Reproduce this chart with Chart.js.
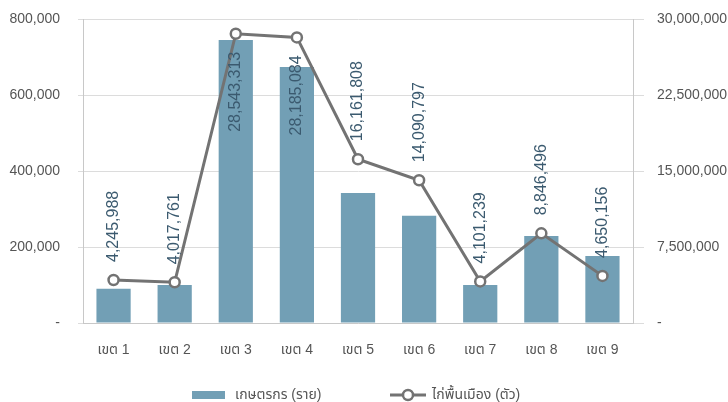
<!DOCTYPE html>
<html>
<head>
<meta charset="utf-8">
<script src="https://cdn.jsdelivr.net/npm/chart.js@4"></script>
<style>
  html, body { margin: 0; padding: 0; background: #fff; }
  #wrap { width: 728px; height: 402px; }
</style>
</head>
<body>
<div id="wrap"><canvas id="chart" width="728" height="402"></canvas></div>
<script>
const zones = ["เขต 1", "เขต 2", "เขต 3", "เขต 4", "เขต 5", "เขต 6", "เขต 7", "เขต 8", "เขต 9"];
const farmers = [90000, 100000, 745000, 674000, 342000, 282000, 100000, 229000, 176000];
const chickens = [4245988, 4017761, 28543313, 28185084, 16161808, 14090797, 4101239, 8846496, 4650156];
const leftTicks = [0, 200000, 400000, 600000, 800000];
const rightTicks = [0, 7500000, 15000000, 22500000, 30000000];
const seriesNames = ["เกษตรกร (ราย)", "ไก่พื้นเมือง (ตัว)"];

const FONT = "'Liberation Sans', Arial, 'Noto Sans Thai', 'Noto Sans', sans-serif";
const barColor = "#729fb5";
const lineColor = "#737373";
const labelColor = "#3b5a6f";

function fmt(v) {
  return v === 0 ? "-" : v.toLocaleString("en-US");
}

// rotated value labels for the line series
const lineLabels = {
  id: "lineLabels",
  afterDatasetsDraw(chart) {
    const ctx = chart.ctx;
    const meta = chart.getDatasetMeta(0);
    ctx.save();
    ctx.font = "16px " + FONT;
    ctx.fillStyle = labelColor;
    ctx.textBaseline = "middle";
    meta.data.forEach((pt, i) => {
      const txt = chickens[i].toLocaleString("en-US");
      const w = ctx.measureText(txt).width;
      ctx.save();
      ctx.translate(pt.x, pt.y);
      ctx.rotate(-Math.PI / 2);
      // no room above the point -> put it below
      if (pt.y - 18 - w < chart.chartArea.top - 5) {
        ctx.textAlign = "right";
        ctx.fillText(txt, -18, 0);
      } else {
        ctx.textAlign = "left";
        ctx.fillText(txt, 18, 0);
      }
      ctx.restore();
    });
    ctx.restore();
  }
};

// legend at the bottom
const bottomLegend = {
  id: "bottomLegend",
  afterDraw(chart) {
    const ctx = chart.ctx;
    const y = 395;
    ctx.save();
    ctx.font = "14px " + FONT;
    ctx.textBaseline = "middle";
    ctx.fillStyle = barColor;
    ctx.fillRect(192, y - 4, 33, 8);
    ctx.fillStyle = "#555";
    ctx.fillText(seriesNames[0], 235, y);
    ctx.strokeStyle = lineColor;
    ctx.lineWidth = 3;
    ctx.beginPath();
    ctx.moveTo(390, y);
    ctx.lineTo(426, y);
    ctx.stroke();
    ctx.beginPath();
    ctx.arc(408, y, 5, 0, Math.PI * 2);
    ctx.fillStyle = "#fff";
    ctx.fill();
    ctx.lineWidth = 2.5;
    ctx.stroke();
    ctx.fillStyle = "#555";
    ctx.fillText(seriesNames[1], 432, y);
    ctx.restore();
  }
};

const data = {
  labels: zones,
  datasets: [
    {
      type: "line",
      label: seriesNames[1],
      data: chickens,
      yAxisID: "y1",
      borderColor: lineColor,
      borderWidth: 3,
      pointRadius: 5,
      pointBorderWidth: 2.5,
      pointBackgroundColor: "#fff",
      pointBorderColor: lineColor,
      tension: 0,
      order: 0,
    },
    {
      type: "bar",
      label: seriesNames[0],
      data: farmers,
      yAxisID: "y",
      backgroundColor: barColor,
      categoryPercentage: 1,
      barPercentage: 0.56,
      order: 1,
    },
  ],
};

const config = {
  data: data,
  options: {
    responsive: false,
    animation: false,
    layout: { padding: { top: 19, bottom: 45, left: 0, right: 0 } },
    plugins: {
      legend: { display: false },
      tooltip: { enabled: false },
    },
    scales: {
      x: {
        grid: { display: false },
        border: { color: "#c8c8c8" },
        ticks: { color: "#555", font: { family: FONT, size: 14 }, padding: 11 },
        afterFit(s) { s.height = 34; },
      },
      y: {
        position: "left",
        min: 0,
        max: 800000,
        afterBuildTicks(s) { s.ticks = leftTicks.map(v => ({ value: v })); },
        ticks: { color: "#555", font: { family: FONT, size: 14 }, padding: 0, callback: v => fmt(v) },
        grid: { color: "#dcdcdc", tickLength: 23, tickBorderDash: [0, 18, 5, 100] },
        border: { color: "#c8c8c8" },
        afterFit(s) { s.width = 83; },
      },
      y1: {
        position: "right",
        min: 0,
        max: 30000000,
        afterBuildTicks(s) { s.ticks = rightTicks.map(v => ({ value: v })); },
        ticks: { color: "#555", font: { family: FONT, size: 14 }, padding: 0, callback: v => fmt(v) },
        grid: { drawOnChartArea: false, color: "#dcdcdc", tickLength: 24, tickBorderDash: [10, 100] },
        border: { color: "#c8c8c8" },
        afterFit(s) { s.width = 95; },
      },
    },
  },
  plugins: [lineLabels, bottomLegend],
};

const ctx = document.getElementById("chart").getContext("2d");
const chart = new Chart(ctx, config);
</script>
</body>
</html>
